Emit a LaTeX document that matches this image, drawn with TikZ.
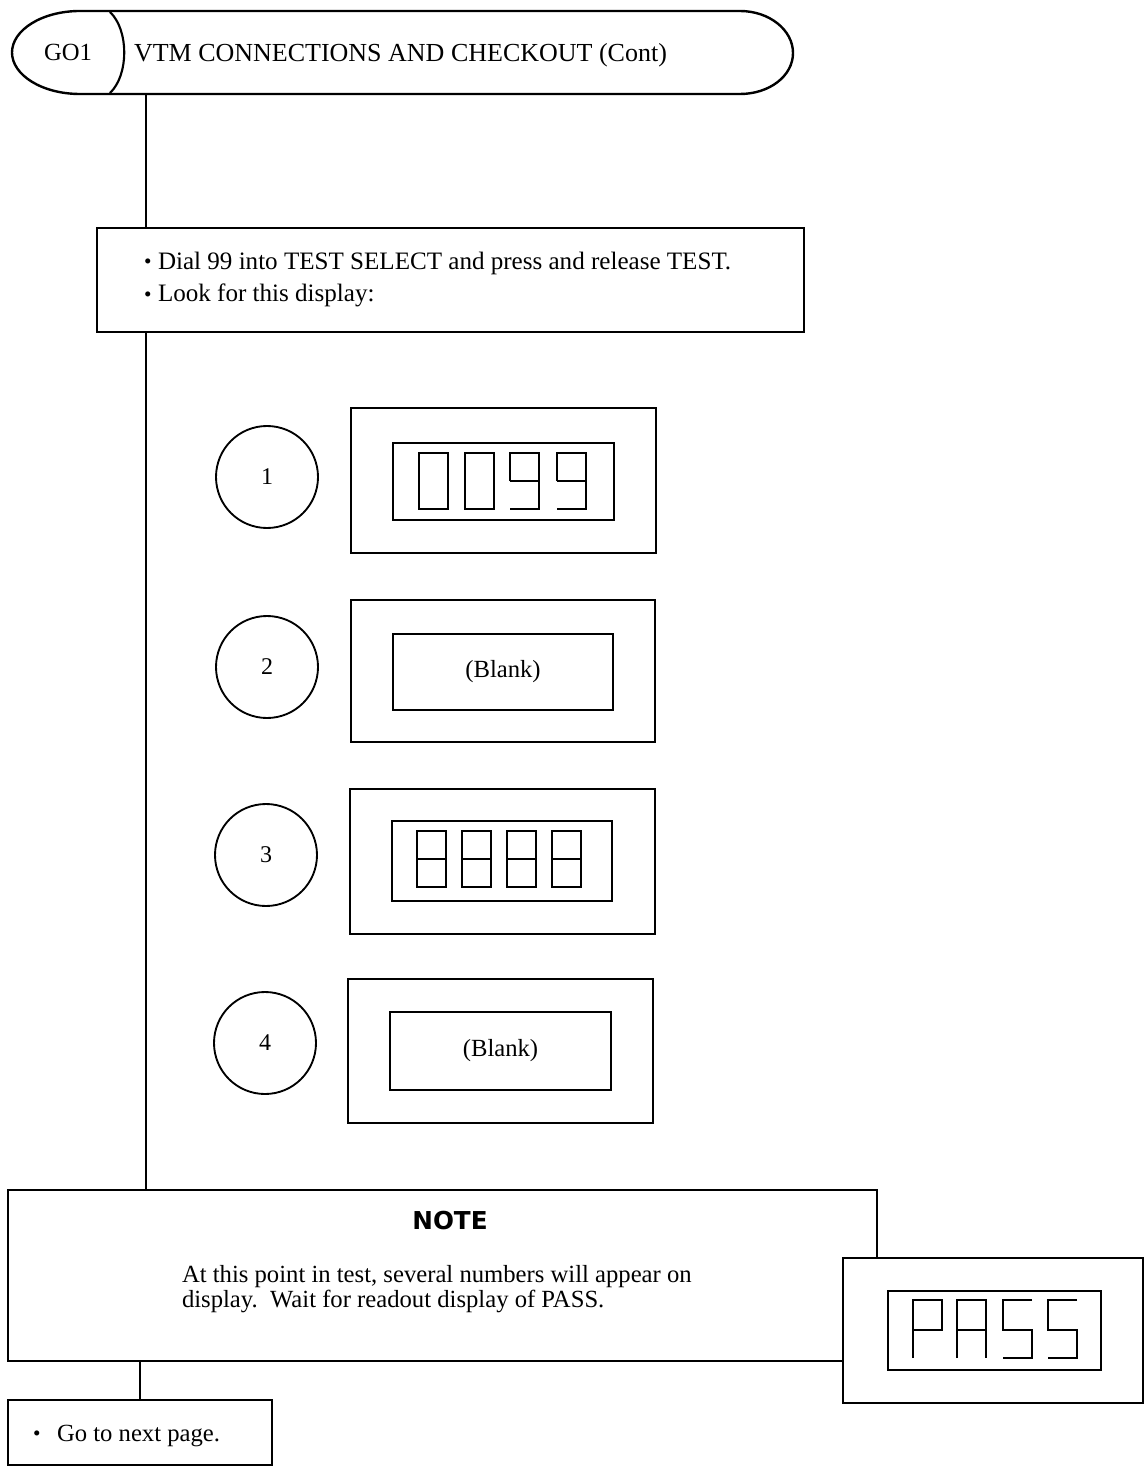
\documentclass[tikz,border=0pt]{standalone}
\usepackage{fontspec}
\setmainfont{Liberation Serif}
\newfontfamily\notefont{DejaVu Sans}
\begin{document}
\begin{tikzpicture}[x=0.75pt,y=-0.75pt,
  frm/.style={draw, rectangle, line width=1.8pt, inner sep=0pt, outer sep=0pt},
  inr/.style={draw, rectangle, line width=1.6pt, inner sep=0pt, outer sep=0pt},
  numc/.style={draw, circle, line width=1.4pt, minimum size=102*0.75pt, inner sep=0pt, font=\fontsize{18}{20}\selectfont},
  sg/.style={line width=1.5pt, line join=miter},
  conn/.style={line width=1.6pt},
  txt/.style={inner sep=0pt, outer sep=0pt, font=\fontsize{18.5}{22}\selectfont},
  dzero/.pic={\draw[sg] (0,0) rectangle (29,56);},
  dnine/.pic={\draw[sg] (0,28) -- (0,0) -- (29,0) -- (29,56) -- (0,56); \draw[sg] (0,28) -- (29,28);},
  deight/.pic={\draw[sg] (0,0) rectangle (29,56); \draw[sg] (0,28) -- (29,28);},
  lettP/.pic={\draw[sg] (0,58) -- (0,0) -- (29,0) -- (29,30) -- (0,30);},
  lettA/.pic={\draw[sg] (0,58) -- (0,0) -- (29,0) -- (29,58); \draw[sg] (0,30) -- (29,30);},
  lettS/.pic={\draw[sg] (29,0) -- (0,0) -- (0,30) -- (29,30) -- (29,58) -- (0,58);},
]
\useasboundingbox (0,0) rectangle (1148,1469);

% header terminal
\draw[line width=1.8pt] (80,11) -- (740,11)
  .. controls (769.3,11) and (793,30) .. (793,53)
  .. controls (793,76) and (769.3,94) .. (740,94)
  -- (80,94)
  .. controls (42,94) and (12,75) .. (12,52.5)
  .. controls (12,30) and (42,11) .. (80,11) -- cycle;
\draw[line width=1.6pt] (110,12) .. controls (129,30) and (129,75) .. (110,93);
\node[txt, anchor=base] (go1) at (68,61) {GO1};
\node[txt, anchor=base west, font=\fontsize{19.5}{22}\selectfont] (title) at (134,62) {VTM CONNECTIONS AND CHECKOUT (Cont)};
\coordinate (hdrb) at (146,94);

% dial box
\node[frm, minimum width=707*0.75pt, minimum height=104*0.75pt] (dial) at (450.5,280) {};
\node[txt, anchor=base west, font=\fontsize{16}{20}\selectfont] (b1) at (144,269) {•};
\node[txt, anchor=base west, font=\fontsize{18.8}{22}\selectfont] (l1) at (158,270) {Dial 99 into TEST SELECT and press and release TEST.};
\node[txt, anchor=base west, font=\fontsize{16}{20}\selectfont] (b2) at (144,301) {•};
\node[txt, anchor=base west, font=\fontsize{18.8}{22}\selectfont] (l2) at (158,302) {Look for this display:};

% row 1
\node[numc] (c1) at (267,477) {1};
\node[frm, minimum width=305*0.75pt, minimum height=145*0.75pt] (d1out) at (503.5,480.5) {};
\node[inr, minimum width=221*0.75pt, minimum height=77*0.75pt] (d1in) at (503.5,481.5) {};
\pic at (419,453) {dzero};
\pic at (465,453) {dzero};
\pic at (510,453) {dnine};
\pic at (557,453) {dnine};

% row 2
\node[numc] (c2) at (267,667) {2};
\node[frm, minimum width=304*0.75pt, minimum height=142*0.75pt] (d2out) at (503,671) {};
\node[inr, minimum width=220*0.75pt, minimum height=76*0.75pt, font=\fontsize{18.5}{22}\selectfont] (d2in) at (503,672) {(Blank)};

% row 3
\node[numc] (c3) at (266,855) {3};
\node[frm, minimum width=305*0.75pt, minimum height=145*0.75pt] (d3out) at (502.5,861.5) {};
\node[inr, minimum width=220*0.75pt, minimum height=80*0.75pt] (d3in) at (502,861) {};
\pic at (417,831) {deight};
\pic at (462,831) {deight};
\pic at (507,831) {deight};
\pic at (552,831) {deight};

% row 4
\node[numc] (c4) at (265,1043) {4};
\node[frm, minimum width=305*0.75pt, minimum height=144*0.75pt] (d4out) at (500.5,1051) {};
\node[inr, minimum width=221*0.75pt, minimum height=78*0.75pt, font=\fontsize{18.5}{22}\selectfont] (d4in) at (500.5,1051) {(Blank)};

% note
\node[frm, minimum width=869*0.75pt, minimum height=171*0.75pt] (note) at (442.5,1275.5) {};
\node[inner sep=0pt, font=\notefont\fontsize{18.5}{22}\selectfont\bfseries] (notetitle) at (450,1221) {NOTE};
\node[txt, anchor=base west] (n1) at (182,1282) {At this point in test, several numbers will appear on};
\node[txt, anchor=base west] (n2) at (182,1307) {display.\ \ Wait for readout display of PASS.};

% PASS display
\node[frm, fill=white, minimum width=300*0.75pt, minimum height=145*0.75pt] (passout) at (993,1330.5) {};
\node[inr, minimum width=213*0.75pt, minimum height=79*0.75pt] (passin) at (994.5,1330.5) {};
\pic at (913,1300) {lettP};
\pic at (957,1300) {lettA};
\pic at (1003,1300) {lettS};
\pic at (1048,1300) {lettS};

% go box
\node[frm, minimum width=264*0.75pt, minimum height=65*0.75pt] (go) at (140,1432.5) {};
\node[txt, anchor=base west, font=\fontsize{16}{20}\selectfont] (b3) at (33,1440) {•};
\node[txt, anchor=base west] (gotxt) at (57,1441) {Go to next page.};

% connectors
\draw[conn] (hdrb) -- (dial.north -| hdrb);
\draw[conn] (dial.south -| hdrb) -- (note.north -| hdrb);
\draw[conn] (note.south -| go.north) -- (go.north);
\end{tikzpicture}
\end{document}
